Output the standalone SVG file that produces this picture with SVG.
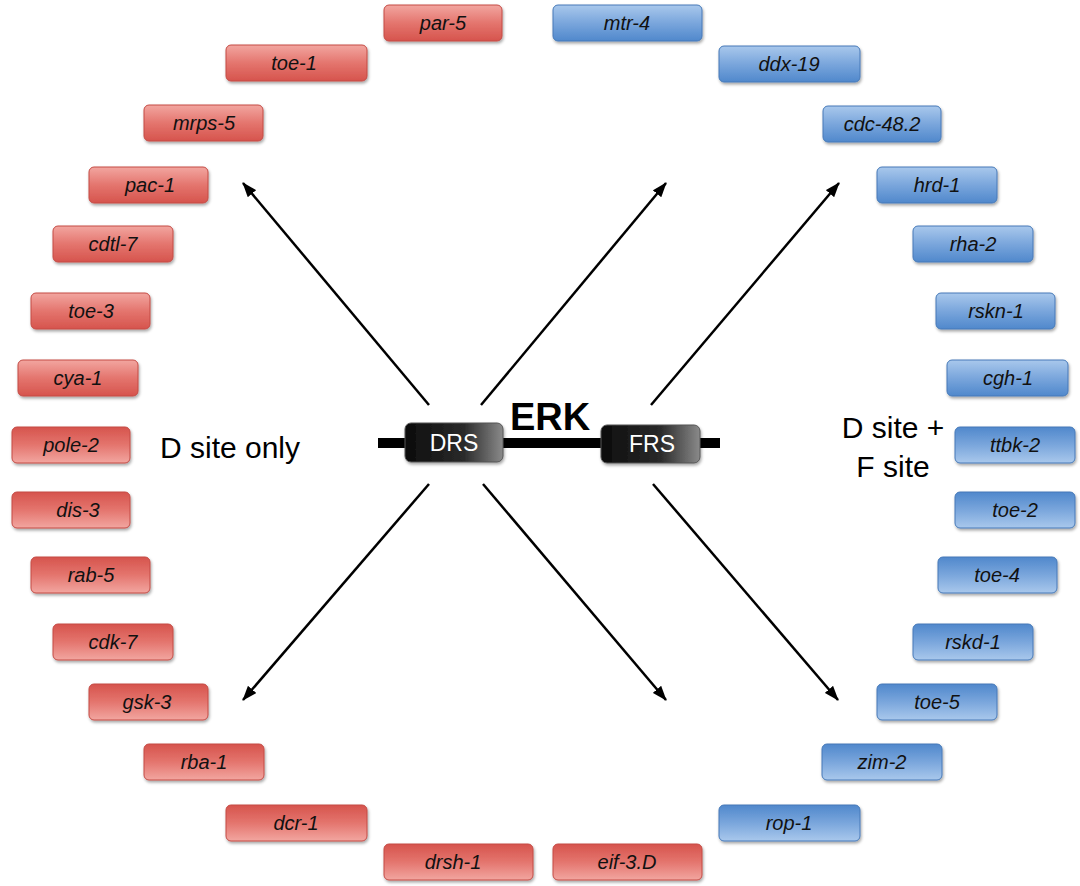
<svg xmlns="http://www.w3.org/2000/svg" width="1080" height="886" viewBox="0 0 1080 886">
<defs>
<linearGradient id="rU" x1="0" y1="0" x2="0" y2="1"><stop offset="0" stop-color="#f2a6a0"/><stop offset="0.5" stop-color="#e4756e"/><stop offset="1" stop-color="#d6544d"/></linearGradient>
<linearGradient id="rD" x1="0" y1="0" x2="0" y2="1"><stop offset="0" stop-color="#d6544d"/><stop offset="0.5" stop-color="#e4756e"/><stop offset="1" stop-color="#f2a6a0"/></linearGradient>
<linearGradient id="bU" x1="0" y1="0" x2="0" y2="1"><stop offset="0" stop-color="#a9c8ec"/><stop offset="0.5" stop-color="#7aa6dc"/><stop offset="1" stop-color="#5088cc"/></linearGradient>
<linearGradient id="bD" x1="0" y1="0" x2="0" y2="1"><stop offset="0" stop-color="#5088cc"/><stop offset="0.5" stop-color="#7aa6dc"/><stop offset="1" stop-color="#a9c8ec"/></linearGradient>
<linearGradient id="blk" x1="0" y1="0" x2="1" y2="0"><stop offset="0" stop-color="#0c0c0c"/><stop offset="0.6" stop-color="#2a2a2a"/><stop offset="1" stop-color="#8a8a8a"/></linearGradient>
<filter id="sh" x="-10%" y="-20%" width="120%" height="150%"><feDropShadow dx="1" dy="2" stdDeviation="1.5" flood-color="#000" flood-opacity="0.35"/></filter>
<marker id="ah" viewBox="0 0 15 11" refX="14" refY="5.5" markerWidth="15" markerHeight="11" markerUnits="userSpaceOnUse" orient="auto"><path d="M0,0 L15,5.5 L0,11 z" fill="#000"/></marker>
</defs>
<style>
.r{stroke:#c44b45;stroke-width:1;filter:url(#sh)}
.b{stroke:#4679b8;stroke-width:1;filter:url(#sh)}
.t{font-family:"Liberation Sans",Arial,sans-serif;font-style:italic;font-size:20px;fill:#111;text-anchor:middle}
.lbl{font-family:"Liberation Sans",Arial,sans-serif;font-size:30px;fill:#000;text-anchor:middle}
.erk{font-family:"Liberation Sans",Arial,sans-serif;font-weight:bold;font-size:38px;fill:#000;text-anchor:middle}
.dom{font-family:"Liberation Sans",Arial,sans-serif;font-size:23px;fill:#fff;text-anchor:middle}
.c{stroke:#000;stroke-width:2.5;fill:none;marker-end:url(#ah)}
</style>
<rect width="1080" height="886" fill="#fff"/>
<g id="connectors">
<line class="c" x1="429" y1="405" x2="243" y2="183"/>
<line class="c" x1="481" y1="405" x2="666" y2="183"/>
<line class="c" x1="651" y1="405" x2="839" y2="183"/>
<line class="c" x1="429" y1="484" x2="243" y2="700"/>
<line class="c" x1="483" y1="484" x2="666" y2="700"/>
<line class="c" x1="653" y1="484" x2="838" y2="700"/>
</g>
<g id="erk">
<rect x="378" y="438" width="342" height="10" fill="#000"/>
<text class="erk" x="550" y="430">ERK</text>
</g>
<g id="drs"><rect x="405" y="423" width="98" height="39" rx="6" fill="url(#blk)" stroke="#555" stroke-width="1" filter="url(#sh)"/><text class="dom" x="454" y="451">DRS</text></g>
<g id="frs"><rect x="601" y="425" width="99" height="38" rx="6" fill="url(#blk)" stroke="#555" stroke-width="1" filter="url(#sh)"/><text class="dom" x="652" y="452">FRS</text></g>
<g id="label-d"><text class="lbl" x="230" y="458">D site only</text></g>
<g id="label-df"><text class="lbl" x="893" y="438">D site +</text><text class="lbl" x="893" y="477">F site</text></g>
<g id="n-par-5"><rect class="r" x="384" y="5" width="118" height="36" rx="5" fill="url(#rU)"/><text class="t" x="443" y="30">par-5</text></g>
<g id="n-toe-1"><rect class="r" x="226" y="45" width="141" height="36" rx="5" fill="url(#rU)"/><text class="t" x="294" y="70">toe-1</text></g>
<g id="n-mrps-5"><rect class="r" x="144" y="105" width="119" height="36" rx="5" fill="url(#rU)"/><text class="t" x="204" y="130">mrps-5</text></g>
<g id="n-pac-1"><rect class="r" x="89" y="167" width="119" height="36" rx="5" fill="url(#rU)"/><text class="t" x="150" y="192">pac-1</text></g>
<g id="n-cdtl-7"><rect class="r" x="53" y="226" width="120" height="36" rx="5" fill="url(#rU)"/><text class="t" x="113" y="251">cdtl-7</text></g>
<g id="n-toe-3"><rect class="r" x="31" y="293" width="119" height="36" rx="5" fill="url(#rU)"/><text class="t" x="91" y="318">toe-3</text></g>
<g id="n-cya-1"><rect class="r" x="18" y="360" width="120" height="36" rx="5" fill="url(#rU)"/><text class="t" x="78" y="385">cya-1</text></g>
<g id="n-pole-2"><rect class="r" x="12" y="427" width="118" height="36" rx="5" fill="url(#rD)"/><text class="t" x="71" y="452">pole-2</text></g>
<g id="n-dis-3"><rect class="r" x="12" y="492" width="118" height="36" rx="5" fill="url(#rD)"/><text class="t" x="78" y="517">dis-3</text></g>
<g id="n-rab-5"><rect class="r" x="31" y="557" width="119" height="36" rx="5" fill="url(#rD)"/><text class="t" x="91" y="582">rab-5</text></g>
<g id="n-cdk-7"><rect class="r" x="53" y="624" width="120" height="36" rx="5" fill="url(#rD)"/><text class="t" x="113" y="649">cdk-7</text></g>
<g id="n-gsk-3"><rect class="r" x="89" y="684" width="119" height="36" rx="5" fill="url(#rD)"/><text class="t" x="147" y="709">gsk-3</text></g>
<g id="n-rba-1"><rect class="r" x="144" y="744" width="120" height="36" rx="5" fill="url(#rD)"/><text class="t" x="204" y="769">rba-1</text></g>
<g id="n-dcr-1"><rect class="r" x="226" y="805" width="141" height="36" rx="5" fill="url(#rD)"/><text class="t" x="296" y="830">dcr-1</text></g>
<g id="n-drsh-1"><rect class="r" x="384" y="844" width="149" height="36" rx="5" fill="url(#rD)"/><text class="t" x="453" y="869">drsh-1</text></g>
<g id="n-eif-3D"><rect class="r" x="553" y="844" width="149" height="36" rx="5" fill="url(#rD)"/><text class="t" x="627" y="869">eif-3.D</text></g>
<g id="n-mtr-4"><rect class="b" x="553" y="5" width="149" height="36" rx="5" fill="url(#bU)"/><text class="t" x="627" y="30">mtr-4</text></g>
<g id="n-ddx-19"><rect class="b" x="719" y="46" width="141" height="36" rx="5" fill="url(#bU)"/><text class="t" x="789" y="71">ddx-19</text></g>
<g id="n-cdc-48-2"><rect class="b" x="823" y="106" width="118" height="36" rx="5" fill="url(#bU)"/><text class="t" x="882" y="131">cdc-48.2</text></g>
<g id="n-hrd-1"><rect class="b" x="877" y="167" width="120" height="36" rx="5" fill="url(#bU)"/><text class="t" x="937" y="192">hrd-1</text></g>
<g id="n-rha-2"><rect class="b" x="913" y="226" width="120" height="36" rx="5" fill="url(#bU)"/><text class="t" x="973" y="251">rha-2</text></g>
<g id="n-rskn-1"><rect class="b" x="936" y="293" width="119" height="36" rx="5" fill="url(#bU)"/><text class="t" x="996" y="318">rskn-1</text></g>
<g id="n-cgh-1"><rect class="b" x="947" y="360" width="121" height="36" rx="5" fill="url(#bU)"/><text class="t" x="1008" y="385">cgh-1</text></g>
<g id="n-ttbk-2"><rect class="b" x="955" y="427" width="120" height="36" rx="5" fill="url(#bD)"/><text class="t" x="1015" y="452">ttbk-2</text></g>
<g id="n-toe-2"><rect class="b" x="955" y="492" width="120" height="36" rx="5" fill="url(#bD)"/><text class="t" x="1015" y="517">toe-2</text></g>
<g id="n-toe-4"><rect class="b" x="938" y="557" width="119" height="36" rx="5" fill="url(#bD)"/><text class="t" x="997" y="582">toe-4</text></g>
<g id="n-rskd-1"><rect class="b" x="913" y="624" width="120" height="36" rx="5" fill="url(#bD)"/><text class="t" x="973" y="649">rskd-1</text></g>
<g id="n-toe-5"><rect class="b" x="877" y="684" width="120" height="36" rx="5" fill="url(#bD)"/><text class="t" x="937" y="709">toe-5</text></g>
<g id="n-zim-2"><rect class="b" x="822" y="744" width="120" height="36" rx="5" fill="url(#bD)"/><text class="t" x="882" y="769">zim-2</text></g>
<g id="n-rop-1"><rect class="b" x="719" y="805" width="141" height="36" rx="5" fill="url(#bD)"/><text class="t" x="789" y="830">rop-1</text></g>
</svg>
